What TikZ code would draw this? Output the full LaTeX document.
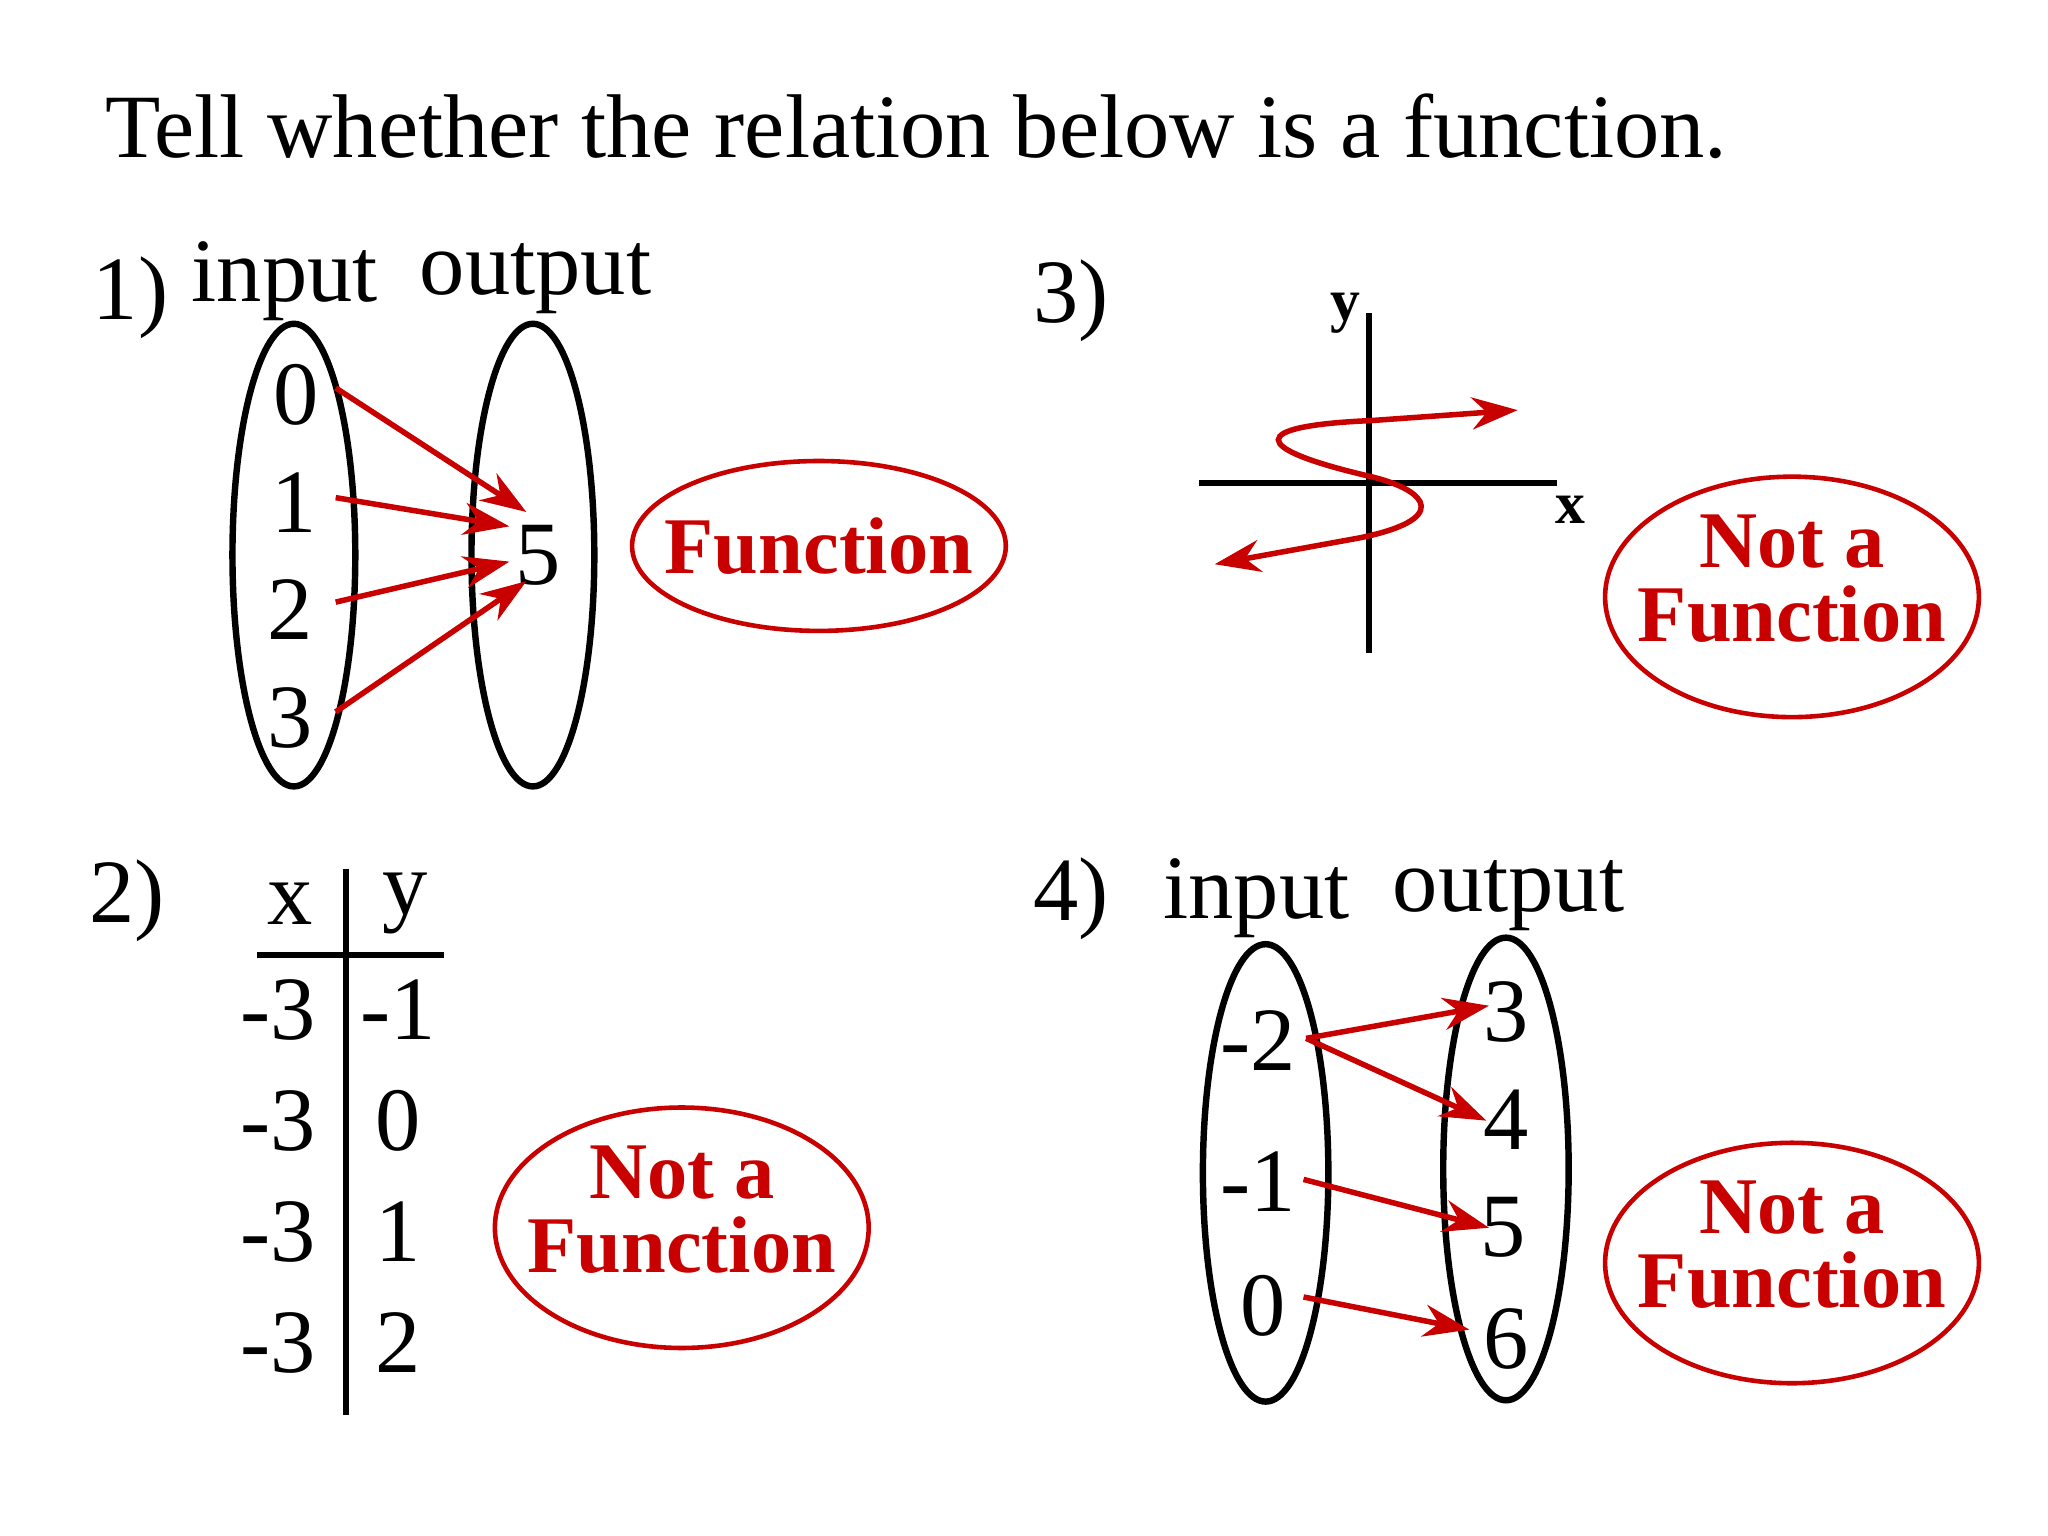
\documentclass[tikz,border=0pt]{standalone}
\usepackage{fontspec}
\setmainfont{Liberation Serif}
\usetikzlibrary{shapes.geometric,arrows.meta}
\definecolor{fred}{RGB}{200,0,0}
\begin{document}
\begin{tikzpicture}[x=0.01cm,y=-0.01cm,
  txt/.style={inner sep=0pt,font=\fontsize{19.7}{24}\selectfont},
  ans/.style={inner sep=0pt,font=\fontsize{17.5}{16.2}\selectfont\bfseries,text=fred,align=center},
  oval/.style={ellipse,draw,line width=1.4pt,inner sep=0pt},
  rov/.style={ellipse,draw=fred,line width=1pt,inner sep=0pt},
  arr/.style={draw=fred,line width=1.2pt,-{Stealth[length=10pt,width=7pt]}},
  ax/.style={line width=1.4pt}]
\useasboundingbox (0,0) rectangle (1568,1176);
\node[txt,anchor=west] (title) at (80,97) {Tell whether the relation below is a function.};
% 1
\node[txt] (n1) at (100,228) {1)};
\node[txt] (in1) at (218,215) {input};
\node[txt] (out1) at (410,213) {output};
\node[oval,minimum width=0.94cm,minimum height=3.54cm] (e1a) at (225,425) {};
\node[oval,minimum width=0.94cm,minimum height=3.54cm] (e1b) at (408,425) {};
\node[txt] (a0) at (227,302) {0};
\node[txt] (a1) at (225,385) {1};
\node[txt] (a2) at (222,467) {2};
\node[txt] (a3) at (222,550) {3};
\node[txt] (b5) at (412,425) {5};
\coordinate (s0) at (257,297); \coordinate (t0) at (403,392);
\coordinate (s1) at (257,381); \coordinate (t1) at (390,403);
\coordinate (s2) at (257,461); \coordinate (t2) at (390,430);
\coordinate (s3) at (257,545); \coordinate (t3) at (403,445);
\draw[arr] (s0) -- (t0); \draw[arr] (s1) -- (t1);
\draw[arr] (s2) -- (t2); \draw[arr] (s3) -- (t3);
\node[rov,minimum width=2.86cm,minimum height=1.3cm] (r1) at (627,418) {};
\node[ans] (f1) at (627,418) {Function};
% 3
\node[txt] (n3) at (820,230) {3)};
\coordinate (xl) at (918,370); \coordinate (xr) at (1192,370);
\coordinate (yt) at (1048,240); \coordinate (yb) at (1048,500);
\draw[ax] (xl) -- (xr); \draw[ax] (yt) -- (yb);
\node[inner sep=0pt,font=\fontsize{13}{15}\selectfont\bfseries] (ly) at (1030,240) {y};
\node[inner sep=0pt,font=\fontsize{13}{15}\selectfont\bfseries] (lx) at (1202,390) {x};
\coordinate (c1) at (930,432); \coordinate (c2) at (1162,314);
\draw[arr,{Stealth[length=10pt,width=7pt]}-{Stealth[length=10pt,width=7pt]}] (c1) -- (1040,412) .. controls (1110,398) and (1095,376) .. (1050,365) .. controls (955,343) and (955,326) .. (1050,322) -- (c2);
\node[rov,minimum width=2.86cm,minimum height=1.84cm] (r3) at (1372,457) {};
\node[ans] (f3) at (1372,443) {Not a\\Function};
% 2
\node[txt] (n2) at (97,690) {2)};
\node[txt] (hx) at (222,692) {x};
\node[txt] (hy) at (310,692) {y};
\coordinate (vt) at (265,665); \coordinate (vb) at (265,1083);
\coordinate (hl) at (197,731); \coordinate (hr) at (340,731);
\draw[ax] (vt) -- (vb); \draw[ax] (hl) -- (hr);
\foreach \yy/\v [count=\i] in {773/-1,858/0,943/1,1028/2}{
  \node[txt] (lx\i) at (213,\yy) {-3};
  \node[txt] (ry\i) at (305,\yy) {\v};
}
\node[rov,minimum width=2.86cm,minimum height=1.84cm] (r2) at (522,940) {};
\node[ans] (f2) at (522,926) {Not a\\Function};
% 4
\node[txt] (n4) at (820,688) {4)};
\node[txt] (in4) at (962,688) {input};
\node[txt] (out4) at (1155,686) {output};
\node[oval,minimum width=0.96cm,minimum height=3.5cm] (e4a) at (969,898) {};
\node[oval,minimum width=0.96cm,minimum height=3.54cm] (e4b) at (1153,895) {};
\node[txt] (m2) at (963,797) {-2};
\node[txt] (m1) at (963,905) {-1};
\node[txt] (m0) at (967,1000) {0};
\node[txt] (o3) at (1153,775) {3};
\node[txt] (o4) at (1153,857) {4};
\node[txt] (o5) at (1151,940) {5};
\node[txt] (o6) at (1153,1025) {6};
\coordinate (u2) at (1000,795); \coordinate (v3) at (1140,770);
\coordinate (v4) at (1138,858);
\coordinate (u1) at (998,903); \coordinate (v5) at (1140,940);
\coordinate (u0) at (998,993); \coordinate (v6) at (1125,1018);
\draw[arr] (u2) -- (v3); \draw[arr] (u2) -- (v4);
\draw[arr] (u1) -- (v5); \draw[arr] (u0) -- (v6);
\node[rov,minimum width=2.86cm,minimum height=1.84cm] (r4) at (1372,967) {};
\node[ans] (f4) at (1372,953) {Not a\\Function};
\end{tikzpicture}
\end{document}
